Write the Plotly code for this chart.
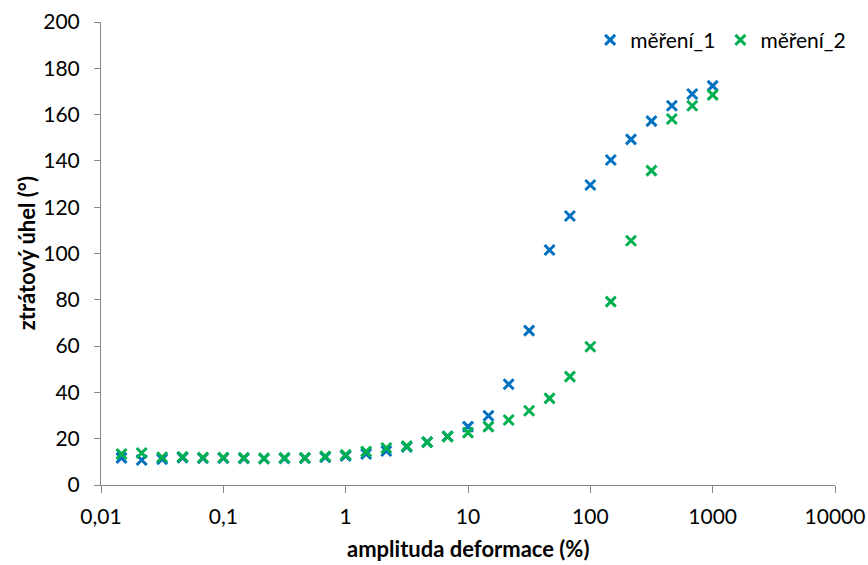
import plotly.graph_objects as go

# strain amplitude (%) – log sweep, 6 points per decade
amplituda = [0.0147, 0.0215, 0.0316, 0.0464, 0.0681, 0.1, 0.147, 0.215, 0.316, 0.464,
             0.681, 1, 1.47, 2.15, 3.16, 4.64, 6.81, 10, 14.7, 21.5,
             31.6, 46.4, 68.1, 100, 147, 215, 316, 464, 681, 1000]

# loss angle (°)
mereni_1 = [11.7, 10.8, 11.2, 11.8, 11.6, 11.6, 11.5, 11.4, 11.5, 11.6,
            12.0, 12.5, 13.4, 14.7, 16.4, 18.5, 21.0, 25.2, 29.9, 43.5,
            66.7, 101.5, 116.2, 129.6, 140.4, 149.3, 157.2, 163.8, 168.9, 172.4]
mereni_2 = [13.4, 13.8, 12.0, 12.2, 11.9, 11.9, 11.7, 11.5, 11.7, 11.7,
            12.4, 13.0, 14.4, 16.0, 16.8, 18.5, 20.9, 22.6, 25.2, 28.1,
            32.1, 37.4, 46.8, 59.7, 79.2, 105.5, 135.8, 158.1, 163.8, 168.5]

x_tickvals = [0.01, 0.1, 1, 10, 100, 1000, 10000]
x_ticktext = ["0,01", "0,1", "1", "10", "100", "1000", "10000"]
y_tickvals = list(range(0, 201, 20))

FONT = "Lato"
AXIS_GREY = "#868686"

fig = go.Figure()
for name, vals, col in [("měření_1", mereni_1, "#0070C0"), ("měření_2", mereni_2, "#00B050")]:
    fig.add_trace(go.Scatter(
        x=amplituda, y=vals, name=name, mode="markers",
        marker=dict(symbol="x-thin", size=10, line=dict(width=3, color=col), color=col),
        cliponaxis=False,
    ))

fig.update_layout(
    width=868, height=565,
    margin=dict(l=101, r=33, t=22, b=80),
    paper_bgcolor="white", plot_bgcolor="white",
    font=dict(family=FONT, size=21, color="#000000"),
    showlegend=True,
    legend=dict(orientation="h", x=1.022, xanchor="right", y=1.005, yanchor="top",
                font=dict(family=FONT, size=21), bgcolor="rgba(0,0,0,0)",
                itemwidth=30, tracegroupgap=0),
)
fig.update_xaxes(
    type="log", range=[-2, 4], automargin=False,
    tickvals=x_tickvals, ticktext=x_ticktext,
    showgrid=False, zeroline=False,
    showline=True, linecolor=AXIS_GREY, linewidth=1,
    ticks="outside", ticklen=7, tickcolor=AXIS_GREY,
    ticklabelstandoff=6,
    tickfont=dict(family=FONT, size=21),
)
fig.update_yaxes(
    range=[0, 200], tickvals=y_tickvals, automargin=False,
    showgrid=False, zeroline=False,
    showline=True, linecolor=AXIS_GREY, linewidth=1,
    ticks="outside", ticklen=6, tickcolor=AXIS_GREY,
    ticklabelstandoff=10,
    tickfont=dict(family=FONT, size=21),
)

# axis titles
fig.add_annotation(text="<b>amplituda deformace (%)</b>", xref="paper", yref="paper",
                   x=0.5, y=-0.138, xanchor="center", yanchor="middle",
                   showarrow=False, font=dict(family=FONT, size=22))
fig.add_annotation(text="<b>ztrátový úhel (°)</b>", xref="paper", yref="paper",
                   x=-0.101, y=0.5, xanchor="center", yanchor="middle", textangle=-90,
                   showarrow=False, font=dict(family=FONT, size=22))

fig.write_html("out.html")
